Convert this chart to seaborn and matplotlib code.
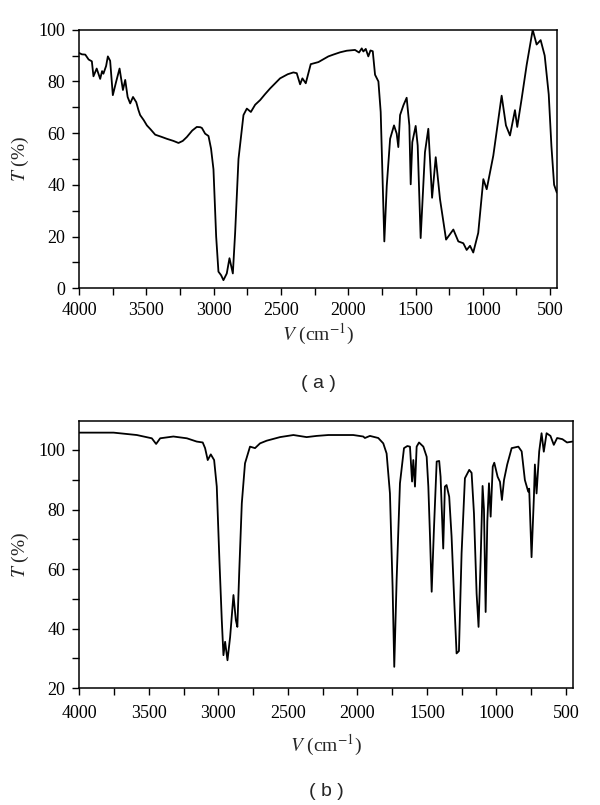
import numpy as np
import pandas as pd
import matplotlib
matplotlib.use("Agg")
import matplotlib.pyplot as plt
from matplotlib.ticker import MultipleLocator
import seaborn as sns

# Spectrum (a): wavenumber (cm-1) and transmittance (%)
wn_a = [4000, 3980, 3955, 3930, 3906, 3894, 3870, 3844, 3830, 3820, 3800, 3787,
        3770, 3750, 3725, 3700, 3685, 3675, 3658, 3640, 3621, 3600, 3576, 3560,
        3547, 3520, 3497, 3470, 3435, 3390, 3348, 3300, 3262, 3230, 3200, 3160,
        3126, 3100, 3088, 3064, 3039, 3020, 3002, 2982, 2965, 2945, 2928, 2903,
        2883, 2858, 2841, 2816, 2779, 2754, 2724, 2692, 2655, 2620, 2581, 2507,
        2450, 2408, 2383, 2358, 2341, 2316, 2279, 2222, 2148, 2111, 2060, 2011,
        1950, 1920, 1900, 1888, 1870, 1851, 1835, 1818, 1801, 1776, 1759, 1732,
        1714, 1689, 1660, 1640, 1628, 1615, 1590, 1566, 1546, 1536, 1524, 1499,
        1484, 1462, 1430, 1405, 1377, 1350, 1318, 1273, 1219, 1182, 1145, 1120,
        1095, 1071, 1034, 996, 971, 922, 860, 828, 798, 761, 744, 711, 674, 629,
        600, 570, 540, 510, 490, 470, 450]
t_a = [91, 90.5, 90.4, 88.5, 87.8, 82, 85, 81, 84, 83, 86, 89.7,
       88, 74.7, 80, 85, 80, 76.7, 80.6, 74, 71.5, 74, 72, 69,
       67, 65, 63, 61.5, 59.4, 58.6, 57.8, 57, 56.2, 57, 58.5, 61,
       62.4, 62.3, 62, 59.8, 58.9, 54, 46, 20, 6.4, 5, 3.1, 5.7,
       11.6, 5.7, 21.4, 50, 67, 69.5, 68.2, 71, 72.8, 75, 77.3, 81.2,
       82.8, 83.5, 83.2, 78.9, 81.2, 79.3, 86.7, 87.5, 89.7, 90.4, 91.3, 91.9,
       92.2, 91.2, 92.8, 91.6, 92.6, 89.7, 92, 91.7, 82.6, 80, 68.2, 18.1,
       39.6, 57.8, 63, 59.8, 54.6, 67, 70.8, 73.7, 63, 40.2, 56.5, 62.8,
       55.2, 19.4, 52.6, 61.7, 35, 50.7, 34.4, 18.8, 22.7, 18.1, 17.4, 14.8,
       16.4, 13.8, 21.4, 42.2, 38.3, 51.3, 74.5, 63, 59.1, 68.9, 62.4, 73.4, 86.4, 100,
       94.3, 96, 90, 75, 55, 40, 37]

# Spectrum (b)
wn_b = [4000, 3753, 3586, 3478, 3447, 3418, 3323, 3226, 3155, 3112, 3095, 3076,
        3054, 3030, 3011, 2992, 2975, 2963, 2951, 2934, 2915, 2891, 2874, 2863,
        2849, 2831, 2808, 2772, 2736, 2700, 2652, 2556, 2460, 2365, 2293, 2209,
        2030, 1958, 1946, 1910, 1850, 1814, 1790, 1766, 1747, 1735, 1718, 1694,
        1665, 1641, 1622, 1607, 1598, 1586, 1574, 1557, 1526, 1502, 1490, 1478,
        1466, 1450, 1430, 1412, 1402, 1383, 1371, 1359, 1340, 1323, 1304, 1287,
        1270, 1251, 1227, 1196, 1179, 1162, 1143, 1129, 1114, 1100, 1090, 1078,
        1066, 1054, 1042, 1027, 1016, 992, 975, 961, 946, 923, 891, 843, 819,
        796, 772, 765, 748, 731, 724, 712, 693, 676, 660, 640, 612, 588, 564,
        526, 493, 455]
t_b = [105.8, 105.8, 105, 103.9, 102, 103.9, 104.5, 103.9, 102.8, 102.5, 100.6, 96.6,
       98.5, 96.6, 87.7, 63, 42.9, 31.1, 35.6, 29.4, 37.2, 51.3, 42.9, 40.6,
       59.7, 82.1, 95.5, 101.1, 100.6, 102.2, 103.1, 104.3, 105, 104.3, 104.7, 105,
       105, 104.5, 104, 104.7, 104, 102.2, 98.8, 85.4, 54, 27.2, 56.3, 88.8,
       100.6, 101.3, 101.1, 89.4, 96.6, 87.7, 101.1, 102.5, 101.1, 97.7, 87.7, 70.9,
       52.4, 73.1, 96.1, 96.3, 91, 66.9, 87.7, 88.2, 84.3, 71, 49.6, 31.7,
       32.5, 65.3, 90.5, 93.3, 92.3, 78.7, 51.8, 40.6, 63, 87.9, 80, 45.6,
       76, 88.8, 77.6, 94.4, 95.7, 91, 89.3, 83.2, 89.9, 95.1, 100.6, 101.1, 99.5,
       89.9, 86, 87, 64, 84.3, 95.1, 85.4, 99.5, 105.6, 99.4, 105.6, 104.7, 101.7, 104,
       103.6, 102.5, 102.8]

x_ticks = [4000, 3500, 3000, 2500, 2000, 1500, 1000, 500]

sns.set_style("ticks")
plt.rcParams["font.family"] = ["Liberation Serif", "DejaVu Serif"]
plt.rcParams["mathtext.fontset"] = "stix"

fig = plt.figure(figsize=(6, 8.05), dpi=100)
ax_a = fig.add_axes([0.132, 0.642, 0.796, 0.321])
ax_b = fig.add_axes([0.132, 0.145, 0.823, 0.332])

df_a = pd.DataFrame({"wn": wn_a, "T": t_a})
df_b = pd.DataFrame({"wn": wn_b, "T": t_b})

sns.lineplot(data=df_a, x="wn", y="T", ax=ax_a, color="black", lw=1.3,
             sort=False, estimator=None)
sns.lineplot(data=df_b, x="wn", y="T", ax=ax_b, color="black", lw=1.3,
             sort=False, estimator=None)

panels = [(ax_a, (0, 100), "( a )", -0.37, 2, 5),
          (ax_b, (20, 109.7), "( b )", -0.385, 8, 7)]
for ax, ylim, label, ypos, xpad, tpad in panels:
    ax.set_xlim(4000, 450)
    ax.set_ylim(*ylim)
    ax.set_xticks(x_ticks)
    ax.set_xticklabels([str(v) for v in x_ticks])
    ax.xaxis.set_minor_locator(MultipleLocator(250))
    ax.yaxis.set_major_locator(MultipleLocator(20))
    ax.yaxis.set_minor_locator(MultipleLocator(10))
    ax.tick_params(which="both", direction="out", length=5, width=1,
                   labelsize=13, pad=5, colors="black")
    ax.tick_params(axis="x", pad=tpad)
    for s in ax.spines.values():
        s.set_linewidth(1.1)
        s.set_color("black")
    ax.set_xlabel(r"$V$ (cm$^{-1}$)", fontsize=14, labelpad=xpad)
    ax.set_ylabel(r"$T$ (%)", fontsize=14, labelpad=5)
    ax.text(0.5, ypos, label, transform=ax.transAxes, ha="center", va="center",
            fontsize=14, family=["Liberation Sans", "DejaVu Sans"])

ax_a.set_yticks([0, 20, 40, 60, 80, 100])
ax_b.set_yticks([20, 40, 60, 80, 100])

fig.savefig("out.png", dpi=100)
